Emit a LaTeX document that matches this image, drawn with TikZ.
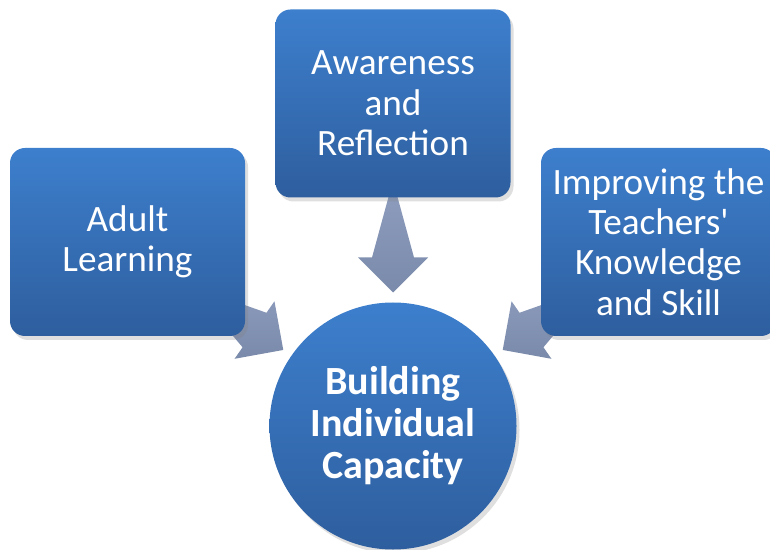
\documentclass[tikz,border=0pt]{standalone}
\usepackage{fontspec}
\setmainfont{Carlito}
\usetikzlibrary{calc,shadows,backgrounds}
\definecolor{boxtop}{RGB}{61,127,205}
\definecolor{boxbot}{RGB}{46,94,158}
\definecolor{arrtop}{RGB}{158,172,204}
\definecolor{arrbot}{RGB}{122,138,170}
\begin{document}
\begin{tikzpicture}[x=0.5pt,y=-0.5pt]
	\useasboundingbox (0,0) rectangle (770,550);
	\begin{scope}[every node/.style={font=\fontsize{18.6}{20.2}\selectfont,text=white,align=center}]
		\tikzstyle{topic}=[rectangle,rounded corners=7.5pt,minimum width=117.5pt,minimum height=94pt,inner sep=0pt,top color=boxtop,bottom color=boxbot,drop shadow={opacity=0.25,shadow xshift=1.5pt,shadow yshift=-2pt}];
		\tikzstyle{goal}=[circle,minimum size=123.5pt,inner sep=0pt,top color=boxtop,bottom color=boxbot,font=\fontsize{20}{21}\selectfont\bfseries,drop shadow={opacity=0.25,shadow xshift=1.5pt,shadow yshift=-2pt}];
		\tikzstyle{fat}=[draw=none,top color=arrtop,bottom color=arrbot];
		\path (127.5,242  ) node[topic] (vAdult) {Adult\\Learning};
		\path (393  ,103.5) node[topic] (vAware) {Awareness\\and\\Reflection};
		\path (658.5,242  ) node[topic] (vTeach) {Improving the\\Teachers\textquotesingle\\Knowledge\\and Skill};
		\path (393  ,426  ) node[goal]  (vBuild) {Building\\Individual\\Capacity};
		% fat arrows into the circle
		\begin{pgfonlayer}{background}
			\foreach \src in {vAdult,vAware,vTeach}{
				\coordinate (tip) at ($(vBuild.center)!66.75pt!(\src.center)$);
				\coordinate (hb) at ($(tip)!17.5pt!(\src.center)$);
				\path[fat] ($(\src.center)!10.5pt!90:(tip)$) -- ($(hb)!10.5pt!-90:(tip)$)
					-- ($(hb)!17.5pt!-90:(tip)$) -- (tip) -- ($(hb)!17.5pt!90:(tip)$)
					-- ($(hb)!10.5pt!90:(tip)$) -- ($(\src.center)!10.5pt!-90:(tip)$) -- cycle;
			}
		\end{pgfonlayer}
	\end{scope}
\end{tikzpicture}
\end{document}
